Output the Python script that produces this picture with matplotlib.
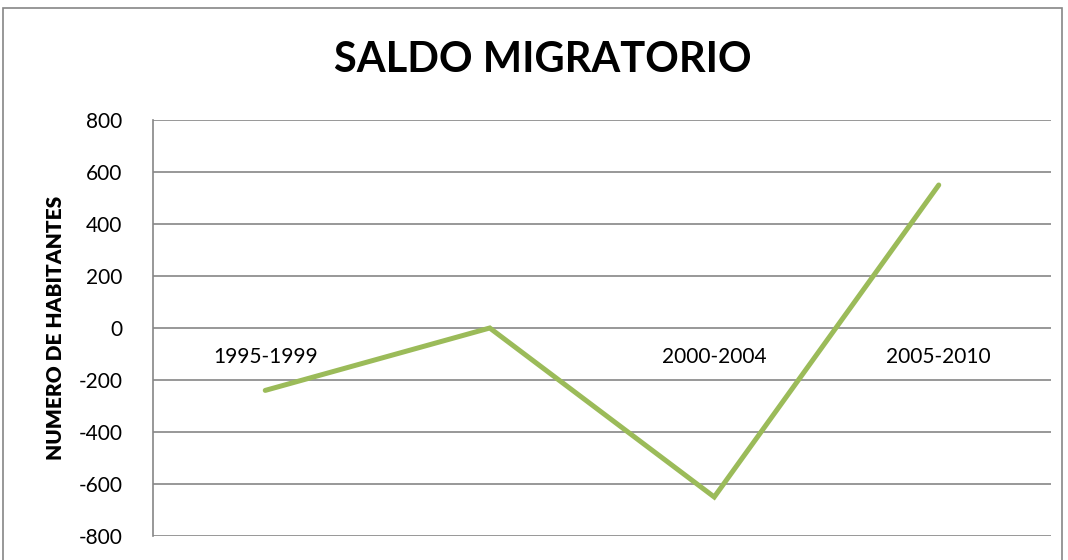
import matplotlib.pyplot as plt
from matplotlib.patches import Rectangle

# data
periods = ["1995-1999", "", "2000-2004", "2005-2010"]
saldo = [-240, 0, -650, 550]
y_ticks = [-800, -600, -400, -200, 0, 200, 400, 600, 800]

plt.rcParams["font.family"] = ["Lato", "DejaVu Sans"]
plt.rcParams["axes.unicode_minus"] = False

W, H = 1068, 560
fig = plt.figure(figsize=(W / 100, H / 100), dpi=100)

# outer chart border (Excel style)
fig.patches.append(Rectangle((3 / W, -0.05), (1062 - 3) / W, 1.05 - 8 / H,
                             transform=fig.transFigure, fill=False,
                             edgecolor="#868686", linewidth=1.2))

ax = fig.add_axes([153 / W, 1 - 536 / H, (1051 - 153) / W, (536 - 120) / H])

x = list(range(len(periods)))
ax.plot(x, saldo, color="#9BBB59", linewidth=3.6, solid_capstyle="round",
        solid_joinstyle="miter", zorder=3)

ax.set_xlim(-0.5, len(periods) - 0.5)
ax.set_ylim(-800, 800)
ax.set_yticks(y_ticks)
ax.yaxis.grid(True, color="#868686", linewidth=1.2)
ax.set_axisbelow(True)

ax.set_xticks(x)
ax.set_xticklabels(periods)
ax.spines["bottom"].set_position(("data", 0))
ax.spines["bottom"].set_visible(False)
ax.tick_params(axis="x", length=0, pad=14, labelsize=15)
ax.tick_params(axis="y", length=0, pad=22, labelsize=15)

for s in ["top", "right"]:
    ax.spines[s].set_visible(False)
ax.spines["left"].set_color("#868686")
ax.spines["left"].set_linewidth(1.2)

ax.set_ylabel("NUMERO DE HABITANTES", fontsize=15, fontweight="heavy", labelpad=10)
fig.text(543 / W, 1 - 60 / H, "SALDO MIGRATORIO", ha="center", va="center",
         fontsize=30, fontweight="bold")

fig.savefig("out.png", dpi=100)
